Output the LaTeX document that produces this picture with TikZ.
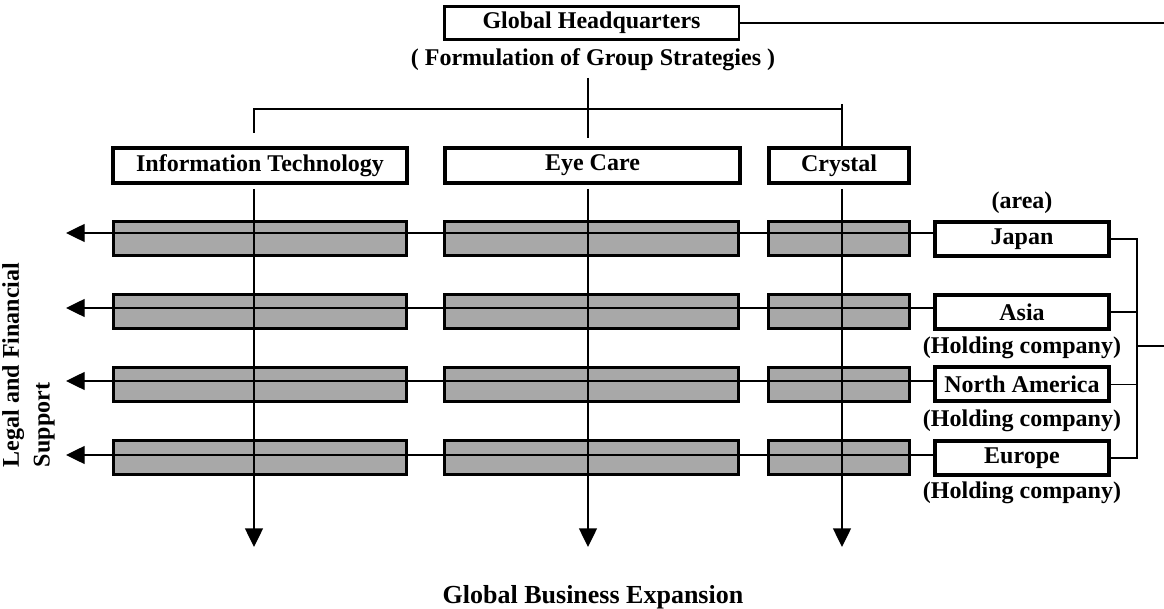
\documentclass[tikz,border=0pt]{standalone}
\usepackage{fontspec}
\setmainfont{Liberation Serif}
\usepackage{xcolor}
\usetikzlibrary{arrows.meta}
\definecolor{unitgray}{RGB}{168,168,168}
\tikzstyle{division}=[draw, line width=3pt, inner sep=0pt, minimum height=26.25pt]
\tikzstyle{region}=[draw, line width=3pt, inner sep=0pt, minimum width=130.5pt, minimum height=25.5pt]
\tikzset{unit/.style={draw, line width=2.25pt, fill=unitgray, inner sep=0pt, minimum height=25.5pt}}
\tikzset{link/.style={line width=1pt}}
\tikzset{flow/.style={link, -{Triangle[length=14pt,width=13.5pt]}}}

\begin{document}
\begin{tikzpicture}[x=0.75pt, y=-0.75pt, font=\bfseries\fontsize{18}{23}\selectfont]
  \useasboundingbox (0,0) rectangle (1164,609);
  %% Head office
  \draw (591.5,23) node[draw, line width=2pt, inner sep=0pt, minimum width=221pt, minimum height=25pt] (hq) {Global Headquarters};
  \draw (593,60) node (strat) {( Formulation of Group Strategies )};

  %% Business divisions
  \draw (260,165.5) node[division, minimum width=220.5pt] (it) {Information Technology};
  \draw (592.5,165.5) node[division, minimum width=221.25pt] (eye) {Eye Care};
  \draw (839,165.5) node[division, minimum width=105pt] (crystal) {Crystal};

  %% Business units per area
  \draw (260,238.5) node[unit, minimum width=219.75pt] (it1) {};
  \draw (260,311.5) node[unit, minimum width=219.75pt] (it2) {};
  \draw (260,384.5) node[unit, minimum width=219.75pt] (it3) {};
  \draw (260,458) node[unit, minimum width=219.75pt] (it4) {};

  \draw (591.5,238.5) node[unit, minimum width=220.5pt] (eye1) {};
  \draw (591.5,311.5) node[unit, minimum width=220.5pt] (eye2) {};
  \draw (591.5,384.5) node[unit, minimum width=220.5pt] (eye3) {};
  \draw (591.5,458) node[unit, minimum width=220.5pt] (eye4) {};

  \draw (839,238.5) node[unit, minimum width=105.75pt] (cry1) {};
  \draw (839,311.5) node[unit, minimum width=105.75pt] (cry2) {};
  \draw (839,384.5) node[unit, minimum width=105.75pt] (cry3) {};
  \draw (839,458) node[unit, minimum width=105.75pt] (cry4) {};

  %% Areas
  \draw (1022,203) node (area) {(area)};
  \draw (1022,239) node[region] (japan) {Japan};
  \draw (1022,312) node[region] (asia) {Asia};
  \draw (1022,348) node (hold1) {(Holding company)};
  \draw (1022,384.5) node[region] (namerica) {North America};
  \draw (1022,421) node (hold2) {(Holding company)};
  \draw (1022,458) node[region] (europe) {Europe};
  \draw (1022,493) node (hold3) {(Holding company)};

  %% Free ends
  \coordinate (busL) at (254,109);
  \coordinate (busR) at (842,109);
  \coordinate (hqout) at (1164,23);
  \coordinate (rbus) at (1137,346);
  \coordinate (regout) at (1164,346);
  \coordinate (itend) at (254,547);
  \coordinate (eyeend) at (588,547);
  \coordinate (cryend) at (842,547);
  \coordinate (tip1) at (66,233);
  \coordinate (tip2) at (66,308);
  \coordinate (tip3) at (66,381);
  \coordinate (tip4) at (66,455);

  %% Strategy links
  \draw[link] (hq.east) -- (hqout);
  \draw[link, shorten <=1.5pt, shorten >=6pt] (strat.south -| eyeend) -- (eye.north -| eyeend);
  \draw[link] ([yshift=9.75pt]it.north -| busL) -- (busL) -- (busR) ++(0,-5) -- (crystal.north -| busR);

  %% Support to the left
  \draw[flow] (japan.west |- tip1) -- (tip1);
  \draw[flow] (asia.west |- tip2) -- (tip2);
  \draw[flow] (namerica.west |- tip3) -- (tip3);
  \draw[flow] (europe.west |- tip4) -- (tip4);

  %% Expansion downwards
  \draw[flow, shorten <=3pt] (it.south -| itend) -- (itend);
  \draw[flow, shorten <=3pt] (eye.south -| eyeend) -- (eyeend);
  \draw[flow, shorten <=3pt] (crystal.south -| cryend) -- (cryend);

  %% Area holding links
  \draw[link] (japan.east) -| (rbus) |- (europe.east);
  \draw[link] (asia.east) -- (asia.east -| rbus);
  \draw[link] (namerica.east) -- (namerica.east -| rbus);
  \draw[link] (rbus) -- (regout);

  %% Legend things
  \draw (28.5,365) node[rotate=90, align=left] (legal) {Legal and Financial\\Support};
  \draw (593,597) node[font=\bfseries\fontsize{19.5}{23}\selectfont] (expand) {Global Business Expansion};
\end{tikzpicture}
\end{document}
